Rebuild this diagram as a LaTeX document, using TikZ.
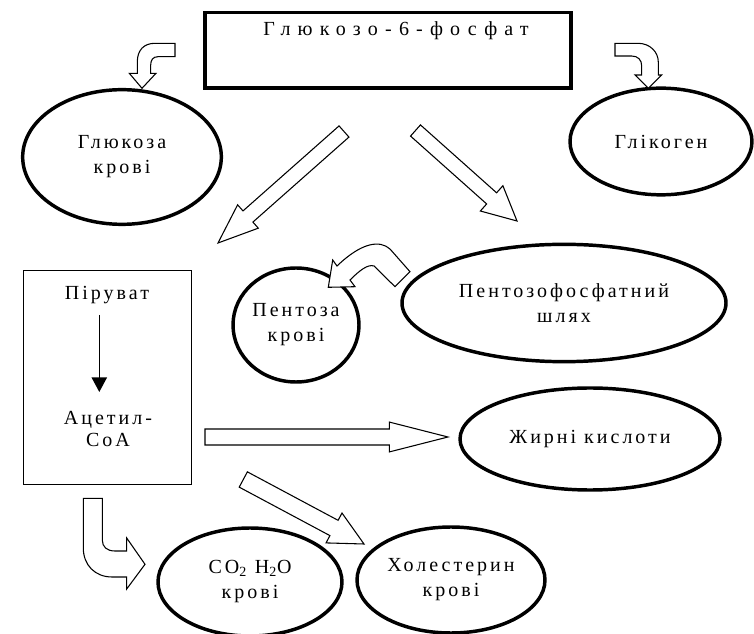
\documentclass[tikz,border=0pt]{standalone}
\usepackage{fontspec}
\setmainfont{Liberation Serif}
\usetikzlibrary{calc,arrows.meta,positioning,shapes.geometric}
\def\BoxLine{0.8pt}
\def\OvalLine{2.6pt}
% hollow block arrow: tail, tip, half shaft, half head, head length
\newcommand\fatarrow[5]{%
  \coordinate (fa) at ($(#2)!#5!(#1)$);
  \draw[hollow] ($(#1)!#3!90:(#2)$) -- ($(fa)!#3!90:(#2)$) -- ($(fa)!#4!90:(#2)$)
    -- (#2) -- ($(fa)!#4!-90:(#2)$) -- ($(fa)!#3!-90:(#2)$) -- ($(#1)!#3!-90:(#2)$) -- cycle;}
\tikzset{
  txt/.style={font=\fontsize{15}{18.75}\selectfont\addfontfeatures{LetterSpace=15}, align=center},
  oval/.style={ellipse, draw, line width=\OvalLine, inner sep=0pt, txt},
  hollow/.style={draw, fill=white, line width=\BoxLine, line join=miter},
}
\begin{document}
\begin{tikzpicture}[x=0.75pt,y=-0.75pt]
\useasboundingbox (0,0) rectangle (754,634);
% top box
\node[draw, line width=2.4pt, minimum width=274.5pt, minimum height=56.5pt] (g6p) at (388,50.4) {};
\node[txt, font=\fontsize{15}{18}\selectfont\addfontfeatures{LetterSpace=36}] (g6ptext) at (396,31) {Глюкозо-6-фосфат};
% ovals
\node[oval, minimum width=149pt, minimum height=101pt] (glucose) at (122,157) {Глюкоза\\крові};
\node[oval, minimum width=136.5pt, minimum height=80pt] (glycogen) at (661,141.5) {Глікоген};
\node[oval, minimum width=94.5pt, minimum height=85.5pt] (pentose) at (296,325) {Пентоза\\крові};
\node[oval, minimum width=243pt, minimum height=88pt] (ppp) at (564,303) {Пентозофосфатний\\шлях};
\node[oval, minimum width=195pt, minimum height=76.5pt] (fatty) at (590,439) {Жирні кислоти};
\node[oval, minimum width=138pt, minimum height=81pt] (co2) at (250,582) {CO\textsubscript{2} H\textsubscript{2}O\\крові};
\node[oval, minimum width=141pt, minimum height=79.5pt] (chol) at (451,580) {Холестерин\\крові};
% pyruvate box
\node[draw, line width=\BoxLine, minimum width=125.8pt, minimum height=160.7pt] (pyrbox) at (107.2,377.2) {};
\node[txt] (pyr) at (107,295) {Піруват};
\node[txt, font=\fontsize{15}{16.5}\selectfont\addfontfeatures{LetterSpace=15}] (acet) at (108,429) {Ацетил-\\CoA};
\coordinate (pa) at (99.3,315);
\coordinate (pb) at (99.3,392);
\draw[line width=1.1pt, -{Triangle[length=11pt,width=11.5pt]}] (pa) -- (pb);
% straight block arrows
\coordinate (t1) at (344,131.5); \coordinate (h1) at (218,243);
\coordinate (t2) at (415.5,130.5); \coordinate (h2) at (517,221);
\coordinate (t3) at (205,437); \coordinate (h3) at (448,437);
\coordinate (t4) at (243.3,479.5); \coordinate (h4) at (364,544);
\fatarrow{t1}{h1}{5.6pt}{11.7pt}{30pt}
\fatarrow{t2}{h2}{5.6pt}{12.7pt}{25.5pt}
\fatarrow{t3}{h3}{6pt}{11.2pt}{44pt}
\fatarrow{t4}{h4}{6.5pt}{12.7pt}{25.5pt}
% bent block arrows
\draw[hollow] (175,43.3) -- (155,43.3) .. controls (144,43.3) and (137.3,50) .. (137.3,62)
  -- (137.3,73.3) -- (129.3,73.3) -- (142,88.3) -- (156,73.3) -- (150.7,73.3) -- (150.7,65)
  .. controls (150.7,60) and (153,56.7) .. (158,56.7) -- (175,56.7) -- cycle;
\draw[hollow] (615,43.3) -- (638,43.3) .. controls (650,43.3) and (658.3,52) .. (658.3,62)
  -- (658.3,75) -- (661.7,75) -- (648.3,88.3) -- (635,75) -- (641.7,75) -- (641.7,66)
  .. controls (641.7,60) and (638,56) .. (631.7,56) -- (615,56) -- cycle;
\draw[hollow] (410,271.7) -- (390,249) .. controls (380,240) and (362,242) .. (337,266)
  -- (332.7,260) -- (328.3,287.3) -- (355,286.7) -- (350,280)
  .. controls (360,270) and (368,264) .. (374,266) -- (395,286.7) -- cycle;
\draw[hollow] (83.3,498.3) -- (102.3,498.3) -- (102.3,540) .. controls (102.3,547) and (107,551) .. (115,551)
  -- (126.7,551) -- (126.7,538) -- (145,564.3) -- (126.7,589) -- (126.7,577) -- (112,577)
  .. controls (95,577) and (83.3,565) .. (83.3,548) -- cycle;
\end{tikzpicture}
\end{document}
